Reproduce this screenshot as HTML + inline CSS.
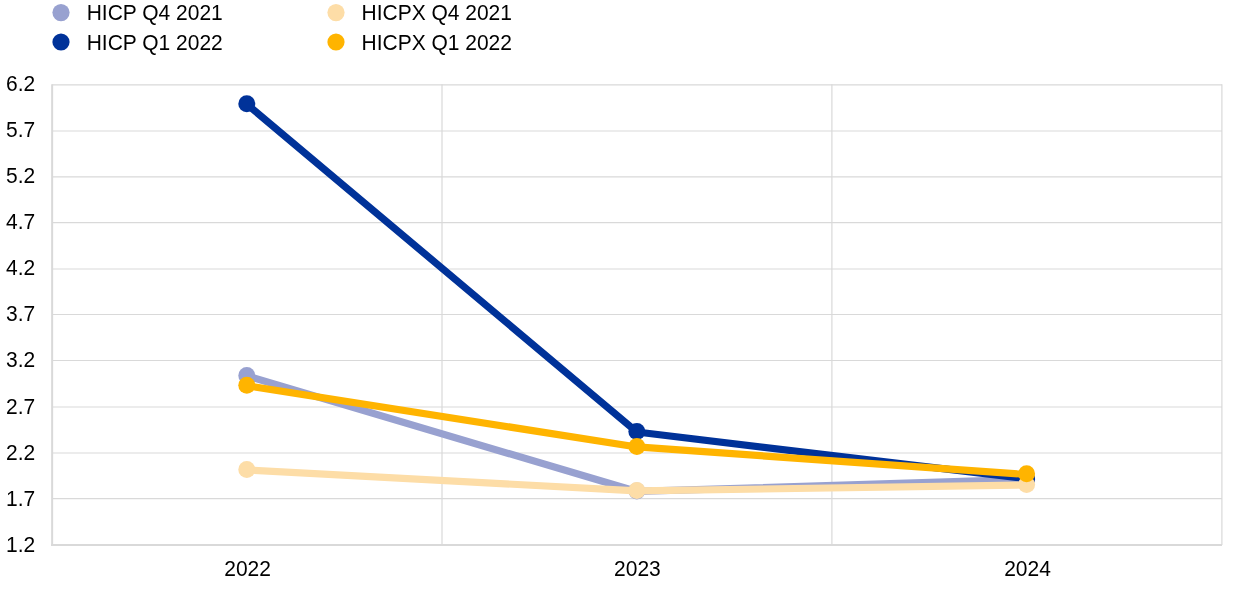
<!DOCTYPE html>
<html lang="en">
<head>
<meta charset="utf-8">
<title>HICP and HICPX inflation forecasts</title>
<style>
html,body{margin:0;padding:0;background:#fff;}
body{width:1240px;height:590px;overflow:hidden;position:relative;}
svg{display:block;position:absolute;left:0;top:0;}
text{font-family:"Liberation Sans",Arial,Helvetica,sans-serif;font-size:21px;fill:#000;}
.grid line{stroke:#d9d9d9;stroke-width:1.2;}
.axis line{stroke:#d9d9d9;stroke-width:2;}
.s{fill:none;stroke-width:7.2;stroke-linejoin:round;stroke-linecap:round;}
</style>
</head>
<body>
<svg width="1240" height="590" viewBox="0 0 1240 590">
<rect x="0" y="0" width="1240" height="590" fill="#ffffff"/>
<!-- legend -->
<g class="legend">
<circle cx="61" cy="12.6" r="8.6" fill="#98a1d0"/>
<text transform="translate(86.7,20) scale(1,1.04)">HICP Q4 2021</text>
<circle cx="61" cy="42" r="8.6" fill="#003299"/>
<text transform="translate(86.7,50) scale(1,1.04)">HICP Q1 2022</text>
<circle cx="336" cy="12.6" r="8.6" fill="#fddda7"/>
<text transform="translate(361.5,20) scale(1,1.04)">HICPX Q4 2021</text>
<circle cx="336" cy="42" r="8.6" fill="#ffb400"/>
<text transform="translate(361.5,50) scale(1,1.04)">HICPX Q1 2022</text>
</g>
<!-- grid -->
<g class="grid">
<line x1="52.1" y1="84.9" x2="1222" y2="84.9"/>
<line x1="52.1" y1="131.0" x2="1222" y2="131.0"/>
<line x1="52.1" y1="176.8" x2="1222" y2="176.8"/>
<line x1="52.1" y1="222.6" x2="1222" y2="222.6"/>
<line x1="52.1" y1="269.0" x2="1222" y2="269.0"/>
<line x1="52.1" y1="314.5" x2="1222" y2="314.5"/>
<line x1="52.1" y1="360.5" x2="1222" y2="360.5"/>
<line x1="52.1" y1="407.0" x2="1222" y2="407.0"/>
<line x1="52.1" y1="453.0" x2="1222" y2="453.0"/>
<line x1="52.1" y1="498.6" x2="1222" y2="498.6"/>
<line x1="442.0" y1="84.2" x2="442.0" y2="545"/>
<line x1="831.9" y1="84.2" x2="831.9" y2="545"/>
<line x1="1221.9" y1="84.2" x2="1221.9" y2="545"/>
</g>
<g class="axis">
<line x1="51.15" y1="544.95" x2="1222" y2="544.95"/>
<line x1="52.15" y1="84.2" x2="52.15" y2="545.9"/>
</g>
<!-- y labels -->
<g class="ylab">
<text transform="translate(6,91) scale(1,1.04)">6.2</text>
<text transform="translate(6,137) scale(1,1.04)">5.7</text>
<text transform="translate(6,183) scale(1,1.04)">5.2</text>
<text transform="translate(6,229) scale(1,1.04)">4.7</text>
<text transform="translate(6,274.8) scale(1,1.04)">4.2</text>
<text transform="translate(6,321) scale(1,1.04)">3.7</text>
<text transform="translate(6,367) scale(1,1.04)">3.2</text>
<text transform="translate(6,413.7) scale(1,1.04)">2.7</text>
<text transform="translate(6,459.8) scale(1,1.04)">2.2</text>
<text transform="translate(6,505.8) scale(1,1.04)">1.7</text>
<text transform="translate(6,551.9) scale(1,1.04)">1.2</text>
</g>
<!-- x labels -->
<g class="xlab" text-anchor="middle">
<text transform="translate(247.6,576.3) scale(1,1.04)">2022</text>
<text transform="translate(637.4,576.3) scale(1,1.04)">2023</text>
<text transform="translate(1027.5,576.3) scale(1,1.04)">2024</text>
</g>
<!-- series -->
<g>
<polyline class="s" stroke="#98a1d0" points="246.8,375.95 636.85,491.45 1026.6,479.45"/>
<circle cx="246.8" cy="375.5" r="8.5" fill="#98a1d0"/><circle cx="636.85" cy="490.95" r="8.5" fill="#98a1d0"/><circle cx="1026.6" cy="479" r="8.5" fill="#98a1d0"/>
<polyline class="s" stroke="#003299" points="246.8,104.15 636.85,432.05 1026.6,478.75"/>
<circle cx="246.8" cy="103.7" r="8.5" fill="#003299"/><circle cx="636.85" cy="431.6" r="8.5" fill="#003299"/><circle cx="1026.6" cy="479" r="8.5" fill="#003299"/>
<polyline class="s" stroke="#fddda7" points="246.8,469.9 636.85,490.95 1026.6,484.95"/>
<circle cx="246.8" cy="469.45" r="8.5" fill="#fddda7"/><circle cx="636.85" cy="490.5" r="8.5" fill="#fddda7"/><circle cx="1026.6" cy="484.5" r="8.5" fill="#fddda7"/>
<polyline class="s" stroke="#ffb400" points="246.8,385.75 636.85,446.95 1026.6,474.5"/>
<circle cx="246.8" cy="385.3" r="8.5" fill="#ffb400"/><circle cx="636.85" cy="446.5" r="8.5" fill="#ffb400"/><circle cx="1026.6" cy="473.7" r="8.5" fill="#ffb400"/>
</g>
</svg>
</body>
</html>
